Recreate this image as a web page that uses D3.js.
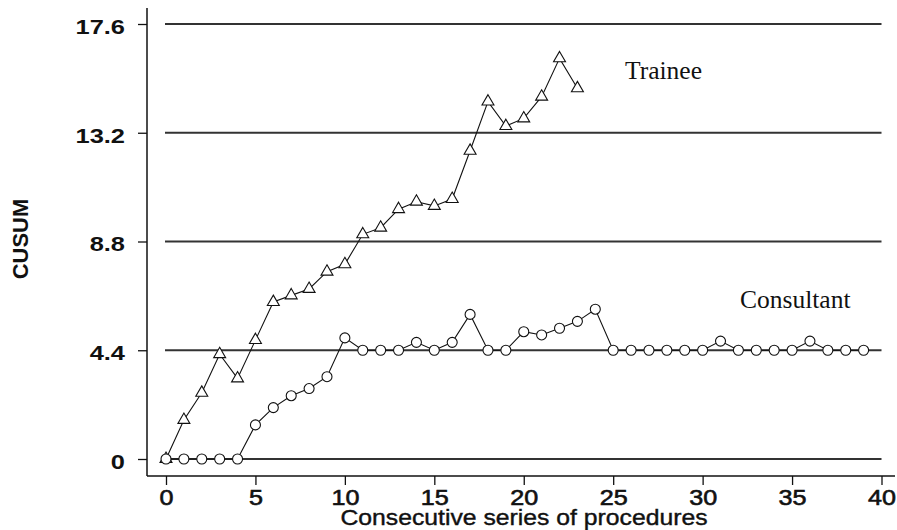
<!DOCTYPE html>
<html>
<head>
<meta charset="utf-8">
<script src="https://cdn.jsdelivr.net/npm/d3@7"></script>
<style>
  html, body { margin: 0; padding: 0; background: #fff; }
  svg { display: block; }
</style>
</head>
<body>
<svg id="chart" width="897" height="530"></svg>
<script>
// ---- data ----
const traineeValues = [0, 1.58, 2.68, 4.24, 3.26, 4.81, 6.35, 6.62, 6.88, 7.58, 7.88,
  9.09, 9.36, 10.11, 10.41, 10.24, 10.52, 12.47, 14.46, 13.47, 13.78, 14.66, 16.21, 15.0];
const consultantValues = [0, 0, 0, 0, 0, 1.38, 2.08, 2.56, 2.85, 3.33, 4.90,
  4.4, 4.4, 4.4, 4.72, 4.4, 4.72, 5.85, 4.4, 4.4, 5.15, 5.02, 5.29, 5.57, 6.06,
  4.4, 4.4, 4.4, 4.4, 4.4, 4.4, 4.77, 4.4, 4.4, 4.4, 4.4, 4.77, 4.4, 4.4, 4.4];
const yTicks = [0, 4.4, 8.8, 13.2, 17.6];
const yTickLabels = ["0", "4.4", "8.8", "13.2", "17.6"];
const xTicks = [0, 5, 10, 15, 20, 25, 30, 35, 40];
const seriesLabels = ["Trainee", "Consultant"];
const xTitle = "Consecutive series of procedures";
const yTitle = "CUSUM";

// ---- layout ----
const svg = d3.select("#chart");
const x = d3.scaleLinear().domain([0, 40]).range([166, 881.5]);
const y = d3.scaleLinear().domain([0, 17.6]).range([459, 24]);
const axisX0 = 147, axisY0 = 476;
const ink = "#111";
const sans = "'Liberation Sans', Arial, Helvetica, sans-serif";
const serif = "'Liberation Serif', 'Times New Roman', serif";

// gridlines
svg.append("g").selectAll("line").data(yTicks).join("line")
  .attr("x1", x(0) - 1).attr("x2", x(40))
  .attr("y1", d => y(d)).attr("y2", d => y(d))
  .attr("stroke", "#333").attr("stroke-width", 1.8);

// y axis
const yAxis = d3.axisLeft(y).tickValues(yTicks)
  .tickFormat((d, i) => yTickLabels[i]).tickSize(9).tickPadding(8);
const gy = svg.append("g").attr("transform", `translate(${axisX0},0)`).call(yAxis);
gy.select(".domain").remove();
gy.selectAll(".tick line").attr("stroke", ink).attr("stroke-width", 1.3);
gy.selectAll(".tick text").attr("fill", ink)
  .attr("x", 0).attr("y", 3)
  .attr("transform", "translate(-22,0) scale(1.27,1)")
  .style("font-family", sans).style("font-size", "20px").style("font-weight", "bold");
svg.append("line").attr("x1", axisX0).attr("x2", axisX0).attr("y1", 8).attr("y2", axisY0)
  .attr("stroke", ink).attr("stroke-width", 1.5);

// x axis
const xAxis = d3.axisBottom(x).tickValues(xTicks).tickSize(9).tickPadding(5);
const gx = svg.append("g").attr("transform", `translate(0,${axisY0})`).call(xAxis);
gx.select(".domain").remove();
gx.selectAll(".tick line").attr("stroke", ink).attr("stroke-width", 1.3);
gx.selectAll(".tick text").attr("fill", ink)
  .attr("transform", "scale(1.17,1)")
  .attr("stroke", ink).attr("stroke-width", 0.6)
  .style("font-family", sans).style("font-size", "21.5px");
svg.append("line").attr("x1", axisX0).attr("x2", 895).attr("y1", axisY0).attr("y2", axisY0)
  .attr("stroke", ink).attr("stroke-width", 1.5);

// axis titles
svg.append("text").attr("x", 524).attr("y", 525).attr("text-anchor", "middle")
  .attr("fill", ink).attr("stroke", ink).attr("stroke-width", 0.4)
  .attr("textLength", 367).attr("lengthAdjust", "spacingAndGlyphs")
  .style("font-family", sans).style("font-size", "22px")
  .text(xTitle);
svg.append("text").attr("transform", "translate(28,239) rotate(-90)")
  .attr("text-anchor", "middle").attr("fill", ink)
  .style("font-family", sans).style("font-size", "22px").style("font-weight", "bold")
  .text(yTitle);

// lines
const line = d3.line().x((d, i) => x(i)).y(d => y(d));
svg.append("path").datum(traineeValues).attr("d", line)
  .attr("fill", "none").attr("stroke", ink).attr("stroke-width", 1.1);
svg.append("path").datum(consultantValues).attr("d", line)
  .attr("fill", "none").attr("stroke", ink).attr("stroke-width", 1.1);

// markers
const tri = d3.symbol().type(d3.symbolTriangle).size(62);
svg.append("g").selectAll("path").data(traineeValues).join("path")
  .attr("d", tri)
  .attr("transform", (d, i) => `translate(${x(i)},${y(d)})`)
  .attr("fill", "#fff").attr("stroke", ink).attr("stroke-width", 1.1);
svg.append("g").selectAll("circle").data(consultantValues).join("circle")
  .attr("cx", (d, i) => x(i)).attr("cy", d => y(d)).attr("r", 5)
  .attr("fill", "#fff").attr("stroke", ink).attr("stroke-width", 1.1);

// series labels
svg.append("text").attr("x", 625).attr("y", 79).attr("fill", ink)
  .style("font-family", serif).style("font-size", "25.5px")
  .text(seriesLabels[0]);
svg.append("text").attr("x", 740).attr("y", 308).attr("fill", ink)
  .style("font-family", serif).style("font-size", "25.5px")
  .text(seriesLabels[1]);
</script>
</body>
</html>
